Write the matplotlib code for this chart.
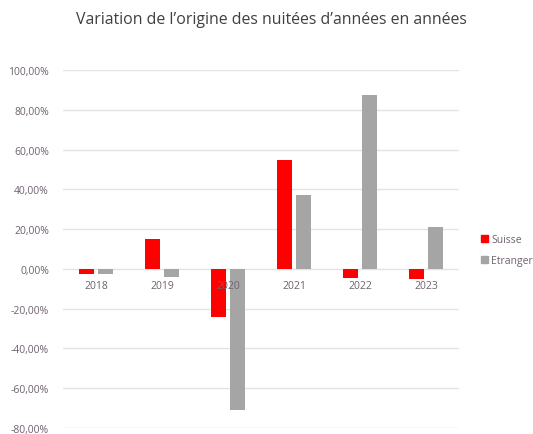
# Variation de l'origine des nuitées - bar chart
import matplotlib
matplotlib.use("Agg")
import matplotlib.pyplot as plt
from matplotlib.ticker import FuncFormatter, MultipleLocator
from matplotlib.patches import Patch
import numpy as np

years = ["2018", "2019", "2020", "2021", "2022", "2023"]
suisse = [-2.5, 15.0, -24.3, 55.0, -4.8, -5.3]        # %
etranger = [-2.8, -4.2, -70.7, 37.0, 87.2, 21.0]      # %

RED = "#FF0000"
GREY = "#A5A5A5"
TXT = "#6f6270"

plt.rcParams['font.family'] = ['Open Sans', 'DejaVu Sans']

fig = plt.figure(figsize=(5.33, 4.35), dpi=100)
ax = fig.add_axes([0.118, 6 / 435, 0.743, 1 - 71 / 435 - 6 / 435])

x = np.arange(len(years))
w = 0.227
off = 0.144
ax.bar(x - off, suisse, w, color=RED, zorder=2)
ax.bar(x + off, etranger, w, color=GREY, zorder=2)

ax.set_xlim(-0.5, len(years) - 0.5)
ax.set_ylim(-80, 100)
ax.yaxis.set_major_locator(MultipleLocator(20))
ax.yaxis.set_major_formatter(FuncFormatter(lambda v, p: f"{v:.2f}".replace(".", ",") + "%"))
ax.grid(axis='y', color='#E3E3E3', linewidth=1, zorder=0)
ax.set_axisbelow(True)
ax.set_xticks([])
ax.tick_params(axis='y', length=0, labelsize=7.5, labelcolor=TXT, pad=10)
for s in ax.spines.values():
    s.set_visible(False)

for i, yr in enumerate(years):
    ax.annotate(yr, (i, 0), xytext=(0, -8), textcoords='offset points',
                ha='center', va='top', fontsize=7.5, color=TXT, zorder=3)

fig.text(0.51, 1 - 20 / 435, "Variation de l’origine des nuitées d’années en années",
         ha='center', va='center', fontsize=11.4, color='#404040')

handles = [Patch(color=RED, label='Suisse'), Patch(color=GREY, label='Etranger')]
leg = fig.legend(handles=handles, loc='center left', bbox_to_anchor=(0.885, 1 - 251 / 435),
                 frameon=False, fontsize=7.5, handlelength=0.7, handleheight=0.7,
                 handletextpad=0.3, labelspacing=1.0)
for t in leg.get_texts():
    t.set_color(TXT)

fig.savefig("out.png", dpi=100)
